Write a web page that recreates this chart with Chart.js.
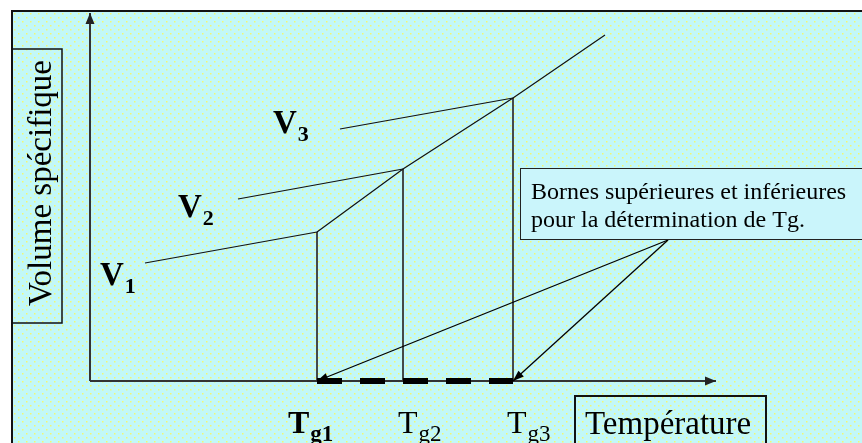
<!DOCTYPE html>
<html>
<head>
<meta charset="utf-8">
<script src="https://cdn.jsdelivr.net/npm/chart.js@4/dist/chart.umd.min.js"></script>
<style>
  html, body { margin:0; padding:0; background:#fff; }
  #wrap { width:862px; height:443px; position:relative; }
</style>
</head>
<body>
<div id="wrap"><canvas id="tgChart"></canvas></div>
<script>
// data space: T along x (0 = y axis), V along y (0 = x axis)
const tgNames = ['g1', 'g2', 'g3'];
const tgValues = [227, 313, 423];
const vNames = ['1', '2', '3'];
const vValues = [149, 212, 283];
const glassStartT = [55, 148, 250];
const glassStartV = [118, 182, 252];
const liquidEndT = 515;
const liquidEndV = 346;
const axisMaxT = 626;
const axisMaxV = 368;
const calloutT = 578;
const calloutV = 141;
const calloutLines = ['Bornes supérieures et inférieures', 'pour la détermination de Tg.'];
const yTitle = 'Volume spécifique';
const xTitle = 'Température';

const SERIF = '"Liberation Serif", "Times New Roman", serif';

function seg(points, color, width, extra) {
  return Object.assign({
    data: points, showLine: true, pointRadius: 0, borderColor: color,
    borderWidth: width, fill: false, tension: 0
  }, extra || {});
}

const datasets = [];
// axes
datasets.push(seg([{x:0, y:0}, {x:axisMaxT, y:0}], '#333', 2));
datasets.push(seg([{x:0, y:0}, {x:0, y:axisMaxV}], '#333', 2));
// liquid line through the three Tg points
const liquid = tgValues.map((t, i) => ({x:t, y:vValues[i]})).concat([{x:liquidEndT, y:liquidEndV}]);
datasets.push(seg(liquid, '#111', 1.2));
// glass lines and vertical drops
tgValues.forEach((t, i) => {
  datasets.push(seg([{x:glassStartT[i], y:glassStartV[i]}, {x:t, y:vValues[i]}], '#111', 1.2));
  datasets.push(seg([{x:t, y:vValues[i]}, {x:t, y:0}], '#333', 1));
});
// Tg range, thick dashes (drawn on top of the axis)
datasets.push(seg([{x:tgValues[0], y:0}, {x:tgValues[2], y:0}], '#000', 6,
  {borderDash:[25,18], borderCapStyle:'butt', order:-1}));
// callout arrows
datasets.push(seg([{x:calloutT, y:calloutV}, {x:tgValues[0], y:0}], '#000', 1.3, {order:-2}));
datasets.push(seg([{x:calloutT, y:calloutV}, {x:tgValues[2], y:0}], '#000', 1.3, {order:-2}));

// label offsets in px (relative to the data point they belong to)
const vLabelOffsets = [[-45, 22], [-60, 18], [-67, 4]];
const tgLabelOffsets = [[-29, 52], [-5, 52], [-6, 52]];

function arrowHead(ctx, x1, y1, x2, y2, len, half) {
  const a = Math.atan2(y2 - y1, x2 - x1);
  ctx.save();
  ctx.translate(x2, y2);
  ctx.rotate(a);
  ctx.beginPath();
  ctx.moveTo(0, 0);
  ctx.lineTo(-len, -half);
  ctx.lineTo(-len, half);
  ctx.closePath();
  ctx.fill();
  ctx.restore();
}

function subText(ctx, main, sub, x, y, bold, mainSize, subSize, subDy) {
  const w = bold ? 'bold ' : '';
  ctx.font = w + mainSize + 'px ' + SERIF;
  ctx.fillText(main, x, y);
  const mw = ctx.measureText(main).width;
  ctx.font = w + subSize + 'px ' + SERIF;
  ctx.fillText(sub, x + mw + 1, y + subDy);
}

const sketchPlugin = {
  id: 'sketch',
  beforeDraw(chart) {
    const ctx = chart.ctx;
    const W = chart.width, H = chart.height;
    ctx.save();
    ctx.fillStyle = '#fff';
    ctx.fillRect(0, 0, W, H);
    ctx.fillStyle = '#c2f8f8';
    ctx.fillRect(12, 11, W - 12, H - 11);
    ctx.fillStyle = '#f4f870';
    let row = 0;
    for (let y = 13; y < H; y += 4, row++) {
      for (let x = 14 + (row % 2) * 4; x < W; x += 8) ctx.fillRect(x, y, 1.5, 1.5);
    }
    ctx.strokeStyle = '#111';
    ctx.lineWidth = 2;
    ctx.beginPath();
    ctx.moveTo(12, 10); ctx.lineTo(12, H);
    ctx.moveTo(11, 11); ctx.lineTo(W, 11);
    ctx.stroke();
    ctx.restore();
  },
  afterDatasetsDraw(chart) {
    const ctx = chart.ctx;
    const sx = chart.scales.x, sy = chart.scales.y;
    const px = v => sx.getPixelForValue(v);
    const py = v => sy.getPixelForValue(v);
    ctx.save();
    ctx.fillStyle = '#222';
    // axis arrows
    arrowHead(ctx, px(0), py(0), px(0), py(axisMaxV), 11, 4.5);
    arrowHead(ctx, px(0), py(0), px(axisMaxT), py(0), 11, 4.5);
    ctx.fillStyle = '#000';
    arrowHead(ctx, px(calloutT), py(calloutV), px(tgValues[0]), py(0), 11, 4);
    arrowHead(ctx, px(calloutT), py(calloutV), px(tgValues[2]), py(0), 11, 4);

    // callout box
    ctx.fillStyle = '#caf5fb';
    ctx.fillRect(520, 168, 400, 71);
    ctx.strokeStyle = '#222';
    ctx.lineWidth = 1;
    ctx.strokeRect(520.5, 168.5, 400, 71);
    ctx.fillStyle = '#000';
    ctx.font = '24px ' + SERIF;
    ctx.textBaseline = 'alphabetic';
    ctx.textAlign = 'left';
    calloutLines.forEach((s, i) => ctx.fillText(s, 531, 199 + i * 28));

    // y title box
    ctx.lineWidth = 1.5;
    ctx.strokeStyle = '#111';
    ctx.strokeRect(12, 49, 50, 274);
    ctx.save();
    ctx.translate(51, 183);
    ctx.rotate(-Math.PI / 2);
    ctx.textAlign = 'center';
    ctx.font = '33px ' + SERIF;
    ctx.fillText(yTitle, 0, 0);
    ctx.restore();

    // x title box
    ctx.lineWidth = 2;
    ctx.strokeRect(575, 396, 191, 60);
    ctx.font = '33px ' + SERIF;
    ctx.fillText(xTitle, 585, 434);

    // V labels
    vValues.forEach((v, i) => {
      const x = px(glassStartT[i]) + vLabelOffsets[i][0];
      const y = py(glassStartV[i]) + vLabelOffsets[i][1];
      subText(ctx, 'V', vNames[i], x, y, true, 33, 22, 8);
    });
    // Tg labels (first one bold)
    tgValues.forEach((t, i) => {
      const x = px(t) + tgLabelOffsets[i][0];
      const y = py(0) + tgLabelOffsets[i][1];
      subText(ctx, 'T', tgNames[i], x, y, i === 0, 32, 23, 8);
    });
    ctx.restore();
  }
};

new Chart(document.getElementById('tgChart').getContext('2d'), {
  type: 'scatter',
  data: { datasets: datasets },
  options: {
    responsive: true,
    maintainAspectRatio: false,
    animation: false,
    layout: { padding: 0 },
    plugins: { legend: { display: false }, tooltip: { enabled: false } },
    scales: {
      x: { type: 'linear', display: false, min: -90, max: 772 },
      y: { type: 'linear', display: false, min: -62, max: 381 }
    }
  },
  plugins: [sketchPlugin]
});
</script>
</body>
</html>
